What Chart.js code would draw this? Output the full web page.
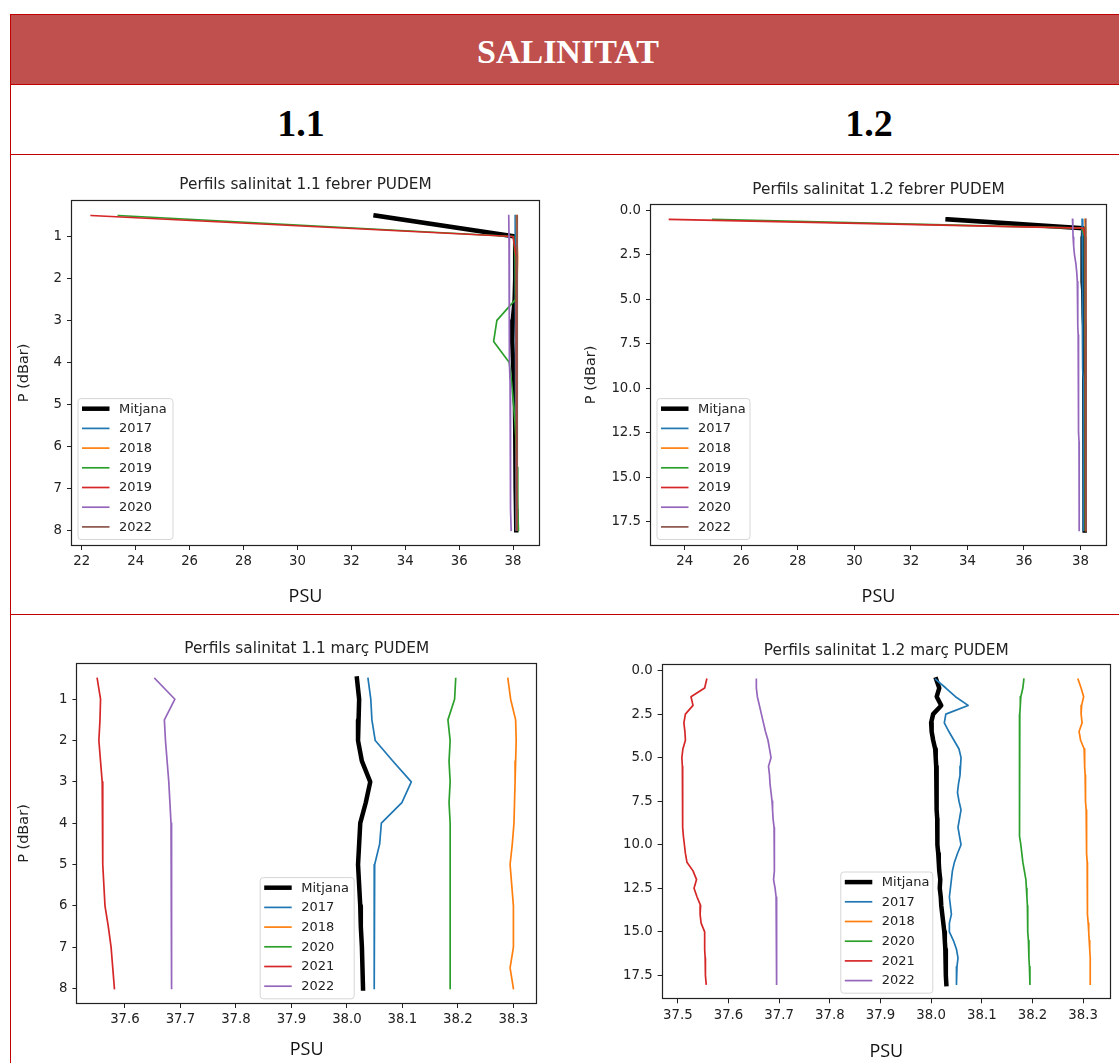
<!DOCTYPE html>
<html>
<head>
<meta charset="utf-8">
<title>Salinitat</title>
<script src="https://cdn.jsdelivr.net/npm/chart.js@4.4.0/dist/chart.umd.min.js"></script>
<style>
  body { margin: 0; background: #fff; width: 1119px; height: 1063px; overflow: hidden; position: relative; }
  .rule { position: absolute; background: #c00000; }
  .band { position: absolute; left: 11px; top: 15px; width: 1108px; height: 69px; background: #c0504d; }
  .txt { position: absolute; width: 400px; text-align: center; font-family: 'Liberation Serif', serif; font-weight: bold; white-space: nowrap; }
  canvas { position: absolute; }
</style>
</head>
<body>
<div class="band"></div>
<div class="rule" style="left:10px;top:14px;width:1px;height:1049px"></div>
<div class="rule" style="left:10px;top:14px;width:1109px;height:1px"></div>
<div class="rule" style="left:10px;top:84px;width:1109px;height:1px"></div>
<div class="rule" style="left:10px;top:154px;width:1109px;height:1px"></div>
<div class="rule" style="left:10px;top:614px;width:1109px;height:1px"></div>
<div class="txt" style="left:368px;top:35px;font-size:34px;line-height:34px;color:#fff">SALINITAT</div>
<div class="txt" style="left:101px;top:104px;font-size:38px;line-height:38px;color:#000">1.1</div>
<div class="txt" style="left:669px;top:104px;font-size:38px;line-height:38px;color:#000">1.2</div>

<canvas id="c1" width="549" height="458" style="left:11px;top:155px"></canvas>
<canvas id="c2" width="548" height="458" style="left:571px;top:155px"></canvas>
<canvas id="c3" width="549" height="448" style="left:11px;top:615px"></canvas>
<canvas id="c4" width="548" height="448" style="left:571px;top:615px"></canvas>

<script>
// depths (dBar)
const depth8 = [0.5, 1, 1.5, 2, 2.5, 3, 3.5, 4, 4.5, 5, 5.5, 6, 6.5, 7, 7.5, 8];
const depth18 = [0.5, 1, 1.5, 2, 2.5, 3, 3.5, 4, 4.5, 5, 5.5, 6, 6.5, 7, 7.5, 8, 8.5, 9,
  9.5, 10, 10.5, 11, 11.5, 12, 12.5, 13, 13.5, 14, 14.5, 15, 15.5, 16, 16.5, 17, 17.5, 18];

// 1.1 febrer
const feb11Mitjana = [32.90, 38.08, 38.08, 38.08, 38.06, 37.99, 37.97, 38.00, 38.04, 38.07, 38.08, 38.09, 38.10, 38.10, 38.11, 38.12];
const feb11y2017 = [38.08, 38.09, 38.09, 38.10, 38.10, 38.10, 38.10, 38.10, 38.10, 38.10, 38.10, 38.11, 38.11, 38.11, 38.11, 38.11];
const feb11y2018 = [38.13, 38.14, 38.17, 38.15, 38.13, 38.13, 38.13, 38.13, 38.13, 38.14, 38.14, 38.14, 38.14, 38.14, 38.14, 38.14];
const feb11y2019a = [23.36, 38.02, 38.08, 38.10, 38.09, 37.40, 37.28, 37.86, 37.95, 38.02, 38.08, 38.12, 38.15, 38.17, 38.18, 38.20];
const feb11y2019b = [22.35, 38.00, 38.12, 38.13, 38.13, 38.13, 38.13, 38.13, 38.13, 38.14, 38.14, 38.14, 38.14, 38.14, 38.14, 38.14];
const feb11y2020 = [37.84, 37.85, 37.85, 37.86, 37.86, 37.87, 37.87, 37.88, 37.89, 37.89, 37.90, 37.90, 37.91, 37.92, 37.92, 37.93];
const feb11y2022 = [38.15, 38.15, 38.15, 38.15, 38.15, 38.15, 38.15, 38.15, 38.16, 38.16, 38.16, 38.16, 38.16, 38.16, 38.16, 38.16];

// 1.2 febrer
const feb12Mitjana = [33.30, 38.10, 38.09, 38.08, 38.07, 38.07, 38.08, 38.09, 38.10, 38.11, 38.12, 38.12, 38.13, 38.13, 38.13, 38.14, 38.14, 38.14,
  38.14, 38.14, 38.15, 38.15, 38.15, 38.15, 38.15, 38.15, 38.15, 38.15, 38.15, 38.15, 38.16, 38.16, 38.16, 38.16, 38.16, 38.16];
const feb12y2017 = [38.06, 38.07, 38.07, 38.07, 38.07, 38.08, 38.08, 38.08, 38.08, 38.08, 38.08, 38.09, 38.09, 38.09, 38.09, 38.09, 38.09, 38.09,
  38.10, 38.10, 38.10, 38.10, 38.10, 38.10, 38.10, 38.10, 38.10, 38.10, 38.10, 38.10, 38.11, 38.11, 38.11, 38.11, 38.11, 38.11];
const feb12y2018 = [38.16, 38.17, 38.17, 38.17, 38.17, 38.17, 38.18, 38.18, 38.18, 38.18, 38.18, 38.18, 38.18, 38.18, 38.18, 38.18, 38.18, 38.19,
  38.19, 38.19, 38.19, 38.19, 38.19, 38.19, 38.19, 38.19, 38.19, 38.19, 38.19, 38.19, 38.19, 38.19, 38.19, 38.19, 38.19, 38.19];
const feb12y2019a = [24.99, 38.05, 38.15, 38.16, 38.16, 38.16, 38.16, 38.16, 38.16, 38.16, 38.16, 38.16, 38.16, 38.16, 38.16, 38.17, 38.17, 38.17,
  38.17, 38.17, 38.17, 38.17, 38.17, 38.17, 38.17, 38.17, 38.17, 38.17, 38.17, 38.17, 38.17, 38.17, 38.17, 38.17, 38.17, 38.17];
const feb12y2019b = [23.46, 38.10, 38.17, 38.18, 38.18, 38.18, 38.18, 38.18, 38.18, 38.18, 38.18, 38.18, 38.18, 38.18, 38.18, 38.18, 38.18, 38.18,
  38.19, 38.19, 38.19, 38.19, 38.19, 38.19, 38.19, 38.19, 38.19, 38.19, 38.19, 38.19, 38.19, 38.19, 38.19, 38.19, 38.19, 38.19];
const feb12y2020 = [37.72, 37.73, 37.74, 37.76, 37.79, 37.84, 37.87, 37.89, 37.90, 37.90, 37.91, 37.91, 37.91, 37.92, 37.92, 37.92, 37.93, 37.93,
  37.93, 37.93, 37.94, 37.94, 37.94, 37.94, 37.94, 37.95, 37.95, 37.95, 37.95, 37.95, 37.96, 37.96, 37.96, 37.96, 37.96, 37.96];
const feb12y2022 = [38.19, 38.19, 38.19, 38.19, 38.19, 38.19, 38.19, 38.19, 38.19, 38.19, 38.19, 38.19, 38.20, 38.20, 38.20, 38.20, 38.20, 38.20,
  38.20, 38.20, 38.20, 38.20, 38.20, 38.20, 38.20, 38.20, 38.20, 38.20, 38.20, 38.20, 38.20, 38.20, 38.20, 38.20, 38.20, 38.20];

// 1.1 març
const mar11Mitjana = [38.018, 38.022, 38.021, 38.020, 38.027, 38.042, 38.034, 38.024, 38.022, 38.020, 38.022, 38.024, 38.025, 38.027, 38.028, 38.029];
const mar11y2017 = [38.038, 38.043, 38.045, 38.051, 38.083, 38.116, 38.099, 38.062, 38.059, 38.050, 38.049, 38.049, 38.049, 38.049, 38.049, 38.050];
const mar11y2018 = [38.290, 38.295, 38.304, 38.305, 38.304, 38.303, 38.302, 38.301, 38.298, 38.294, 38.297, 38.300, 38.300, 38.300, 38.294, 38.300];
const mar11y2020 = [38.196, 38.194, 38.182, 38.186, 38.184, 38.186, 38.184, 38.186, 38.186, 38.186, 38.186, 38.186, 38.186, 38.186, 38.186, 38.186];
const mar11y2021 = [37.550, 37.556, 37.555, 37.553, 37.556, 37.559, 37.560, 37.560, 37.560, 37.560, 37.562, 37.564, 37.570, 37.575, 37.578, 37.581];
const mar11y2022 = [37.654, 37.690, 37.671, 37.673, 37.676, 37.679, 37.681, 37.683, 37.684, 37.684, 37.684, 37.684, 37.684, 37.684, 37.684, 37.684];

// 1.2 març
const mar12Mitjana = [38.010, 38.016, 38.011, 38.020, 38.004, 38.000, 38.001, 38.004, 38.008, 38.009, 38.010, 38.010, 38.011, 38.011, 38.011, 38.011, 38.012, 38.012,
  38.012, 38.013, 38.014, 38.015, 38.016, 38.018, 38.017, 38.019, 38.020, 38.022, 38.024, 38.026, 38.027, 38.028, 38.029, 38.029, 38.029, 38.030];
const mar12y2017 = [38.009, 38.029, 38.048, 38.073, 38.029, 38.026, 38.035, 38.045, 38.055, 38.059, 38.058, 38.057, 38.054, 38.052, 38.055, 38.059, 38.056, 38.053,
  38.056, 38.059, 38.052, 38.046, 38.042, 38.040, 38.038, 38.036, 38.038, 38.040, 38.036, 38.036, 38.044, 38.050, 38.053, 38.051, 38.050, 38.050];
const mar12y2018 = [38.290, 38.296, 38.301, 38.297, 38.296, 38.298, 38.292, 38.295, 38.302, 38.303, 38.303, 38.304, 38.304, 38.305, 38.305, 38.306, 38.306, 38.307,
  38.307, 38.307, 38.307, 38.308, 38.308, 38.308, 38.308, 38.309, 38.309, 38.309, 38.310, 38.311, 38.312, 38.313, 38.314, 38.314, 38.314, 38.314];
const mar12y2020 = [38.183, 38.181, 38.177, 38.176, 38.175, 38.175, 38.174, 38.174, 38.174, 38.174, 38.174, 38.174, 38.174, 38.174, 38.175, 38.175, 38.175, 38.175,
  38.175, 38.177, 38.179, 38.181, 38.184, 38.187, 38.188, 38.189, 38.190, 38.190, 38.191, 38.191, 38.192, 38.193, 38.193, 38.194, 38.195, 38.195];
const mar12y2021 = [37.557, 37.553, 37.526, 37.530, 37.515, 37.512, 37.514, 37.515, 37.510, 37.508, 37.509, 37.510, 37.510, 37.509, 37.509, 37.509, 37.510, 37.510,
  37.511, 37.513, 37.515, 37.518, 37.530, 37.537, 37.532, 37.538, 37.545, 37.544, 37.546, 37.553, 37.553, 37.553, 37.554, 37.554, 37.555, 37.556];
const mar12y2022 = [37.655, 37.655, 37.657, 37.661, 37.665, 37.669, 37.673, 37.678, 37.681, 37.684, 37.679, 37.681, 37.682, 37.684, 37.686, 37.687, 37.688, 37.690,
  37.691, 37.691, 37.691, 37.690, 37.690, 37.689, 37.692, 37.694, 37.695, 37.695, 37.695, 37.695, 37.695, 37.695, 37.695, 37.695, 37.695, 37.695];

// tick labels
const febTicks11 = [22, 24, 26, 28, 30, 32, 34, 36, 38];
const febTicks12 = [24, 26, 28, 30, 32, 34, 36, 38];
const marTicks11 = [37.6, 37.7, 37.8, 37.9, 38.0, 38.1, 38.2, 38.3];
const marTicks12 = [37.5, 37.6, 37.7, 37.8, 37.9, 38.0, 38.1, 38.2, 38.3];
const depthTicks8 = [1, 2, 3, 4, 5, 6, 7, 8];
const depthTicks18 = [0, 2.5, 5, 7.5, 10, 12.5, 15, 17.5];

// matplotlib tab10
const C = {
  mitjana: '#000000', blue: '#1f77b4', orange: '#ff7f0e', green: '#2ca02c',
  red: '#d62728', purple: '#9467bd', brown: '#8c564b'
};

Chart.defaults.font.family = "'DejaVu Sans', sans-serif";
Chart.defaults.color = '#222';

// box around the axes, like matplotlib spines
const frame = {
  id: 'frame',
  afterDatasetsDraw(chart) {
    const a = chart.chartArea, ctx = chart.ctx;
    ctx.save();
    ctx.strokeStyle = '#222';
    ctx.lineWidth = 1.2;
    ctx.strokeRect(Math.round(a.left) + 0.5, Math.round(a.top) + 0.5,
      Math.round(a.right - a.left) - 1, Math.round(a.bottom - a.top) - 1);
    ctx.restore();
  }
};

// legend drawn inside the axes (lower left / lower centre)
const boxLegend = {
  id: 'boxLegend',
  afterDraw(chart, args, opts) {
    const ctx = chart.ctx, a = chart.chartArea;
    const sets = chart.data.datasets;
    const rowH = 19.7;
    const w = opts.width, h = sets.length * rowH + 3;
    const x = opts.align === 'center' ? (a.left + a.right) / 2 - w / 2 : a.left + opts.left;
    const y = a.bottom - opts.bottom - h;
    ctx.save();
    ctx.beginPath();
    ctx.roundRect(x + 0.5, y + 0.5, w, h, 3);
    ctx.fillStyle = 'rgba(255,255,255,0.8)';
    ctx.fill();
    ctx.strokeStyle = '#d6d6d6';
    ctx.lineWidth = 1;
    ctx.stroke();
    ctx.font = "13px 'DejaVu Sans'";
    ctx.textBaseline = 'middle';
    sets.forEach((ds, i) => {
      const cy = y + 10.6 + i * rowH;
      ctx.beginPath();
      ctx.moveTo(x + 4.5, cy);
      ctx.lineTo(x + 32, cy);
      ctx.strokeStyle = ds.borderColor;
      ctx.lineWidth = ds.borderWidth;
      ctx.lineCap = 'butt';
      ctx.stroke();
      ctx.fillStyle = '#222';
      ctx.fillText(ds.label, x + 41.5, cy + 0.5);
    });
    ctx.restore();
  }
};

function makeProfile(id, cfg) {
  const datasets = cfg.series.map((s, i) => ({
    label: s.label,
    data: cfg.depth.map((d, k) => ({ x: s.values[k], y: d })),
    borderColor: s.color,
    borderWidth: s.label === 'Mitjana' ? 4.5 : 1.7,
    borderCapStyle: 'square',
    borderJoinStyle: 'round',
    pointRadius: 0,
    fill: false,
    tension: 0,
    order: -i
  }));
  const fmt = dec => v => Number(v).toFixed(dec);
  return new Chart(document.getElementById(id), {
    type: 'line',
    data: { datasets },
    plugins: [frame, boxLegend],
    options: {
      responsive: false,
      animation: false,
      events: [],
      layout: { padding: { left: 0, right: cfg.padRight, top: 0, bottom: 0 } },
      plugins: {
        legend: { display: false },
        tooltip: { enabled: false },
        title: {
          display: true,
          fullSize: false,
          text: cfg.title,
          color: '#222',
          font: { size: 15.3, weight: 'normal', lineHeight: 1.2 },
          padding: { top: cfg.titleTop, bottom: cfg.titleBottom }
        },
        boxLegend: cfg.legend
      },
      scales: {
        x: {
          type: 'linear',
          position: 'bottom',
          min: cfg.xMin,
          max: cfg.xMax,
          bounds: 'data',
          border: { display: false },
          grid: { drawOnChartArea: false, drawTicks: true, tickLength: 4, color: '#222' },
          ticks: { autoSkip: false, maxRotation: 0, padding: 4, font: { size: 13.3 }, color: '#222', callback: fmt(cfg.xDec) },
          afterBuildTicks: s => { s.ticks = cfg.xTicks.map(v => ({ value: v })); },
          afterFit: s => { s.height = cfg.xAxisH; },
          title: {
            display: true,
            text: 'PSU',
            color: '#111',
            font: { family: "'Open Sans', sans-serif", size: 18, lineHeight: 1.2 },
            padding: { top: 0, bottom: cfg.xTitlePad }
          }
        },
        y: {
          type: 'linear',
          position: 'left',
          reverse: true,
          min: cfg.yMin,
          max: cfg.yMax,
          bounds: 'data',
          border: { display: false },
          grid: { drawOnChartArea: false, drawTicks: true, tickLength: 4, color: '#222' },
          ticks: { autoSkip: false, padding: 5, font: { size: 13.3 }, color: '#222', callback: fmt(cfg.yDec) },
          afterBuildTicks: s => { s.ticks = cfg.yTicks.map(v => ({ value: v })); },
          afterFit: s => { s.width = cfg.yAxisW; },
          title: {
            display: !!cfg.yTitle,
            text: cfg.yTitle || '',
            color: '#222',
            font: { size: 14.5, lineHeight: 1.2 },
            padding: { top: cfg.yTitlePad, bottom: 0 }
          }
        }
      }
    }
  });
}

makeProfile('c1', {
  title: 'Perfils salinitat 1.1 febrer PUDEM',
  depth: depth8,
  series: [
    { label: 'Mitjana', values: feb11Mitjana, color: C.mitjana },
    { label: '2017', values: feb11y2017, color: C.blue },
    { label: '2018', values: feb11y2018, color: C.orange },
    { label: '2019', values: feb11y2019a, color: C.green },
    { label: '2019', values: feb11y2019b, color: C.red },
    { label: '2020', values: feb11y2020, color: C.purple },
    { label: '2022', values: feb11y2022, color: C.brown }
  ],
  xMin: 21.6, xMax: 39.0, xTicks: febTicks11, xDec: 0,
  yMin: 0.125, yMax: 8.375, yTicks: depthTicks8, yDec: 0,
  yAxisW: 60, xAxisH: 67, padRight: 20,
  titleTop: 20.7, titleBottom: 5.7,
  yTitle: 'P (dBar)', yTitlePad: 4.2, xTitlePad: 5.2,
  legend: { align: 'left', left: 6.5, bottom: 7, width: 95 }
});

makeProfile('c2', {
  title: 'Perfils salinitat 1.2 febrer PUDEM',
  depth: depth18,
  series: [
    { label: 'Mitjana', values: feb12Mitjana, color: C.mitjana },
    { label: '2017', values: feb12y2017, color: C.blue },
    { label: '2018', values: feb12y2018, color: C.orange },
    { label: '2019', values: feb12y2019a, color: C.green },
    { label: '2019', values: feb12y2019b, color: C.red },
    { label: '2020', values: feb12y2020, color: C.purple },
    { label: '2022', values: feb12y2022, color: C.brown }
  ],
  xMin: 22.77, xMax: 38.94, xTicks: febTicks12, xDec: 0,
  yMin: -0.375, yMax: 18.875, yTicks: depthTicks18, yDec: 1,
  yAxisW: 79, xAxisH: 67, padRight: 12,
  titleTop: 25.7, titleBottom: 4.7,
  yTitle: 'P (dBar)', yTitlePad: 11.2, xTitlePad: 5.5,
  legend: { align: 'left', left: 6.5, bottom: 7, width: 93 }
});

makeProfile('c3', {
  title: 'Perfils salinitat 1.1 març PUDEM',
  depth: depth8,
  series: [
    { label: 'Mitjana', values: mar11Mitjana, color: C.mitjana },
    { label: '2017', values: mar11y2017, color: C.blue },
    { label: '2018', values: mar11y2018, color: C.orange },
    { label: '2020', values: mar11y2020, color: C.green },
    { label: '2021', values: mar11y2021, color: C.red },
    { label: '2022', values: mar11y2022, color: C.purple }
  ],
  xMin: 37.5125, xMax: 38.3425, xTicks: marTicks11, xDec: 1,
  yMin: 0.125, yMax: 8.375, yTicks: depthTicks8, yDec: 0,
  yAxisW: 65.4, xAxisH: 59, padRight: 23,
  titleTop: 25, titleBottom: 4.7,
  yTitle: 'P (dBar)', yTitlePad: 4.2, xTitlePad: 2.2,
  legend: { align: 'center', bottom: 5.7, width: 94 }
});

makeProfile('c4', {
  title: 'Perfils salinitat 1.2 març PUDEM',
  depth: depth18,
  series: [
    { label: 'Mitjana', values: mar12Mitjana, color: C.mitjana },
    { label: '2017', values: mar12y2017, color: C.blue },
    { label: '2018', values: mar12y2018, color: C.orange },
    { label: '2020', values: mar12y2020, color: C.green },
    { label: '2021', values: mar12y2021, color: C.red },
    { label: '2022', values: mar12y2022, color: C.purple }
  ],
  xMin: 37.468, xMax: 38.355, xTicks: marTicks12, xDec: 1,
  yMin: -0.375, yMax: 18.875, yTicks: depthTicks18, yDec: 1,
  yAxisW: 90.6, xAxisH: 63.7, padRight: 8,
  titleTop: 26.7, titleBottom: 4,
  yTitle: null, yTitlePad: 0, xTitlePad: 0.2,
  legend: { align: 'center', bottom: 6.6, width: 92 }
});
</script>
</body>
</html>
